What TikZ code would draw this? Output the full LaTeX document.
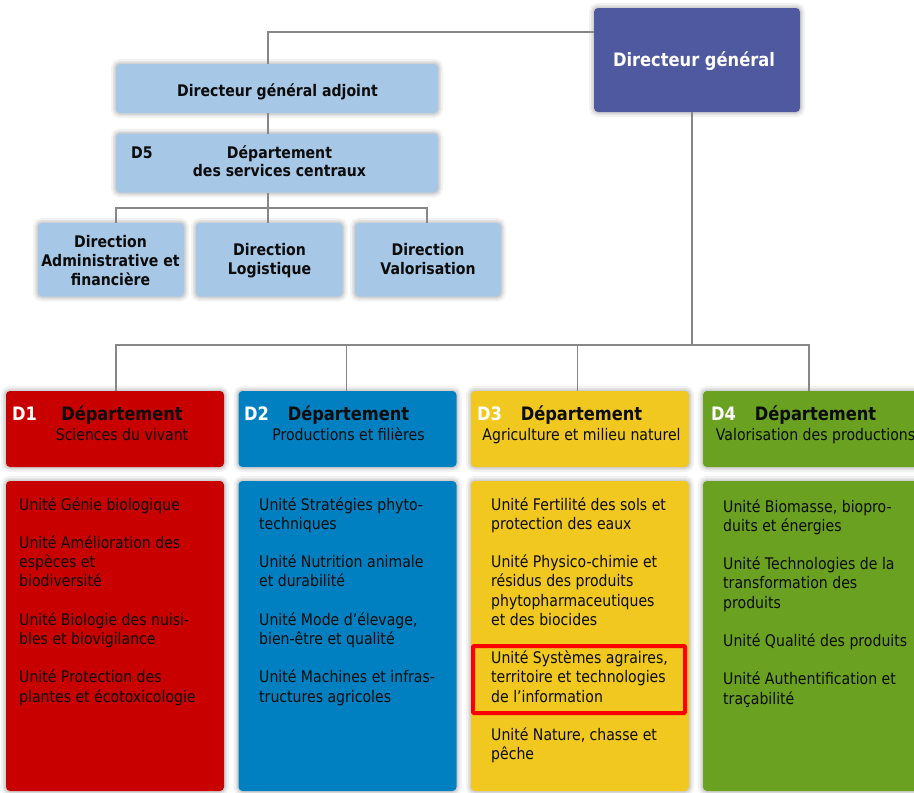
\documentclass[tikz,border=0pt]{standalone}
\usepackage{fontspec}
\setmainfont[FakeStretch=0.88]{DejaVu Sans}
\definecolor{dgblue}{RGB}{79,89,160}
\definecolor{lblue}{RGB}{167,199,231}
\definecolor{dred}{RGB}{200,0,0}
\definecolor{dblue}{RGB}{0,128,192}
\definecolor{dyellow}{RGB}{240,200,32}
\definecolor{dgreen}{RGB}{106,161,32}
\definecolor{conngray}{RGB}{135,135,135}
\definecolor{txt}{RGB}{12,12,12}
\definecolor{hlred}{RGB}{255,0,0}
\newcommand\myfs[2]{\fontsize{#1}{#2}\selectfont}
\begin{document}
\begin{tikzpicture}[x=1pt,y=-1pt,
  box/.style={rounded corners=4pt, inner sep=0pt, outer sep=0pt, anchor=north west,
    preaction={draw=black, draw opacity=0.05, line width=10pt},
    preaction={draw=black, draw opacity=0.06, line width=6pt},
    preaction={draw=black, draw opacity=0.08, line width=3pt}},
  conn/.style={draw=conngray, line width=1.4pt},
  tb/.style={inner sep=0pt, text=txt},
  topfont/.style={font=\bfseries\myfs{16}{19.2}},
  headfont/.style={font=\bfseries\myfs{18.5}{22}},
  subfont/.style={font=\myfs{16}{19.2}},
  unitfont/.style={font=\myfs{16}{19.2}, align=left, anchor=north west},
  dlabel/.style={inner sep=0pt, text=white, font=\bfseries\myfs{18.5}{22}, anchor=base west}]
\useasboundingbox (0,0) rectangle (914,793);
\fill[white] (0,0) rectangle (914,793);

% top boxes
\node[box, fill=dgblue, minimum width=206pt, minimum height=104pt] (dg) at (594,8) {};
\node[box, fill=lblue, minimum width=322pt, minimum height=49pt] (dga) at (116,64) {};
\node[box, fill=lblue, minimum width=322pt, minimum height=59pt] (d5) at (116,133.5) {};
\node[box, fill=lblue, minimum width=146pt, minimum height=73.5pt] (dir1) at (38,223) {};
\node[box, fill=lblue, minimum width=146.5pt, minimum height=73.5pt] (dir2) at (196,223) {};
\node[box, fill=lblue, minimum width=146pt, minimum height=73.5pt] (dir3) at (355,223) {};

% department header boxes
\node[box, fill=dred, minimum width=218pt, minimum height=76pt] (h1) at (6,391) {};
\node[box, fill=dblue, minimum width=218pt, minimum height=76pt] (h2) at (238.5,391) {};
\node[box, fill=dyellow, minimum width=218pt, minimum height=76pt] (h3) at (471,391) {};
\node[box, fill=dgreen, minimum width=218pt, minimum height=76pt] (h4) at (703,391) {};

% unit boxes
\node[box, fill=dred, minimum width=218pt, minimum height=310pt] (b1) at (6,481) {};
\node[box, fill=dblue, minimum width=218pt, minimum height=310pt] (b2) at (238.5,481) {};
\node[box, fill=dyellow, minimum width=218pt, minimum height=310pt] (b3) at (471,481) {};
\node[box, fill=dgreen, minimum width=218pt, minimum height=310pt] (b4) at (703,481) {};

% connectors
\coordinate (j1) at (268,32);
\draw[conn] (dg.west |- j1) -- (j1) -- (j1 |- dga.north);
\draw[conn] (j1 |- dga.south) -- (j1 |- d5.north);
\coordinate (j2) at (268,208);
\coordinate (j2l) at (116,208);
\coordinate (j2r) at (427,208);
\draw[conn] (j1 |- d5.south) -- (j2);
\draw[conn] (j2l |- dir1.north) -- (j2l) -- (j2r) -- (j2r |- dir3.north);
\draw[conn] (j2) -- (j2 |- dir2.north);

\coordinate (j3) at (692,345);
\coordinate (j3l) at (116,345);
\coordinate (j3r) at (809,345);
\coordinate (j3b) at (346.5,345);
\coordinate (j3c) at (577.5,345);
\draw[conn] (j3 |- dg.south) -- (j3);
\draw[conn] (j3l |- h1.north) -- (j3l) -- (j3r) -- (j3r |- h4.north);
\draw[conn] (j3b) -- (j3b |- h2.north);
\draw[conn] (j3c) -- (j3c |- h3.north);

% top texts
\node[inner sep=0pt, text=white, font=\bfseries\myfs{18.5}{22}, anchor=base] (dgt) at (694,66.7) {Directeur général};
\node[tb, topfont, anchor=base] (dgat) at (277.5,96.7) {Directeur général adjoint};
\node[tb, topfont, anchor=base west] (d5l) at (131,158.5) {D5};
\node[tb, topfont, anchor=base] (d5t1) at (279.5,158.3) {Département};
\node[tb, topfont, anchor=base] (d5t2) at (279.5,176.7) {des services centraux};
\node[tb, topfont, anchor=base] (dir1a) at (110.5,247.5) {Direction};
\node[tb, topfont, anchor=base] (dir1b) at (110.5,266.7) {Administrative et};
\node[tb, topfont, anchor=base] (dir1c) at (110.5,285.9) {financière};
\node[tb, topfont, anchor=base] (dir2a) at (269.5,255.5) {Direction};
\node[tb, topfont, anchor=base] (dir2b) at (269.5,274.7) {Logistique};
\node[tb, topfont, anchor=base] (dir3a) at (428,255.5) {Direction};
\node[tb, topfont, anchor=base] (dir3b) at (428,274.7) {Valorisation};

% header texts
\node[dlabel] (l1) at (12,420.5) {D1};
\node[dlabel] (l2) at (244,420.5) {D2};
\node[dlabel] (l3) at (477,420.5) {D3};
\node[dlabel] (l4) at (711,420.5) {D4};
\node[tb, headfont, anchor=base] (t1) at (122,420.5) {Département};
\node[tb, headfont, anchor=base] (t2) at (348.5,420.5) {Département};
\node[tb, headfont, anchor=base] (t3) at (581.5,420.5) {Département};
\node[tb, headfont, anchor=base] (t4) at (815.5,420.5) {Département};
\node[tb, subfont, anchor=base] (s1) at (122,440) {Sciences du vivant};
\node[tb, subfont, anchor=base] (s2) at (348.5,440) {Productions et filières};
\node[tb, subfont, anchor=base] (s3) at (581.5,440) {Agriculture et milieu naturel};
\node[tb, subfont, anchor=base] (s4) at (815.5,440) {Valorisation des productions};

% unit texts
\node[tb, unitfont] (u1) at (19,496.5) {\strut Unité Génie biologique\\[19.2pt]
Unité Amélioration des\\ espèces et\\ biodiversité\\[19.2pt]
Unité Biologie des nuisi-\\ bles et biovigilance\\[19.2pt]
Unité Protection des\\ plantes et écotoxicologie};
\node[tb, unitfont] (u2) at (259,496.5) {\strut Unité Stratégies phyto-\\ techniques\\[19.2pt]
Unité Nutrition animale\\ et durabilité\\[19.2pt]
Unité Mode d’élevage,\\ bien-être et qualité\\[19.2pt]
Unité Machines et infras-\\ tructures agricoles};
\node[tb, unitfont] (u3) at (491,496.5) {\strut Unité Fertilité des sols et\\ protection des eaux\\[19.2pt]
Unité Physico-chimie et\\ résidus des produits\\ phytopharmaceutiques\\ et des biocides\\[19.2pt]
Unité Systèmes agraires,\\ territoire et technologies\\ de l’information\\[19.2pt]
Unité Nature, chasse et\\ pêche};
\node[tb, unitfont] (u4) at (723,498.5) {\strut Unité Biomasse, biopro-\\ duits et énergies\\[19.2pt]
Unité Technologies de la\\ transformation des\\ produits\\[19.2pt]
Unité Qualité des produits\\[19.2pt]
Unité Authentification et\\ traçabilité};

% highlight
\node[draw=hlred, line width=4pt, rounded corners=1pt, inner sep=0pt, outer sep=0pt, anchor=north west,
  minimum width=212pt, minimum height=67pt] (hl) at (473,646) {};
\end{tikzpicture}
\end{document}
